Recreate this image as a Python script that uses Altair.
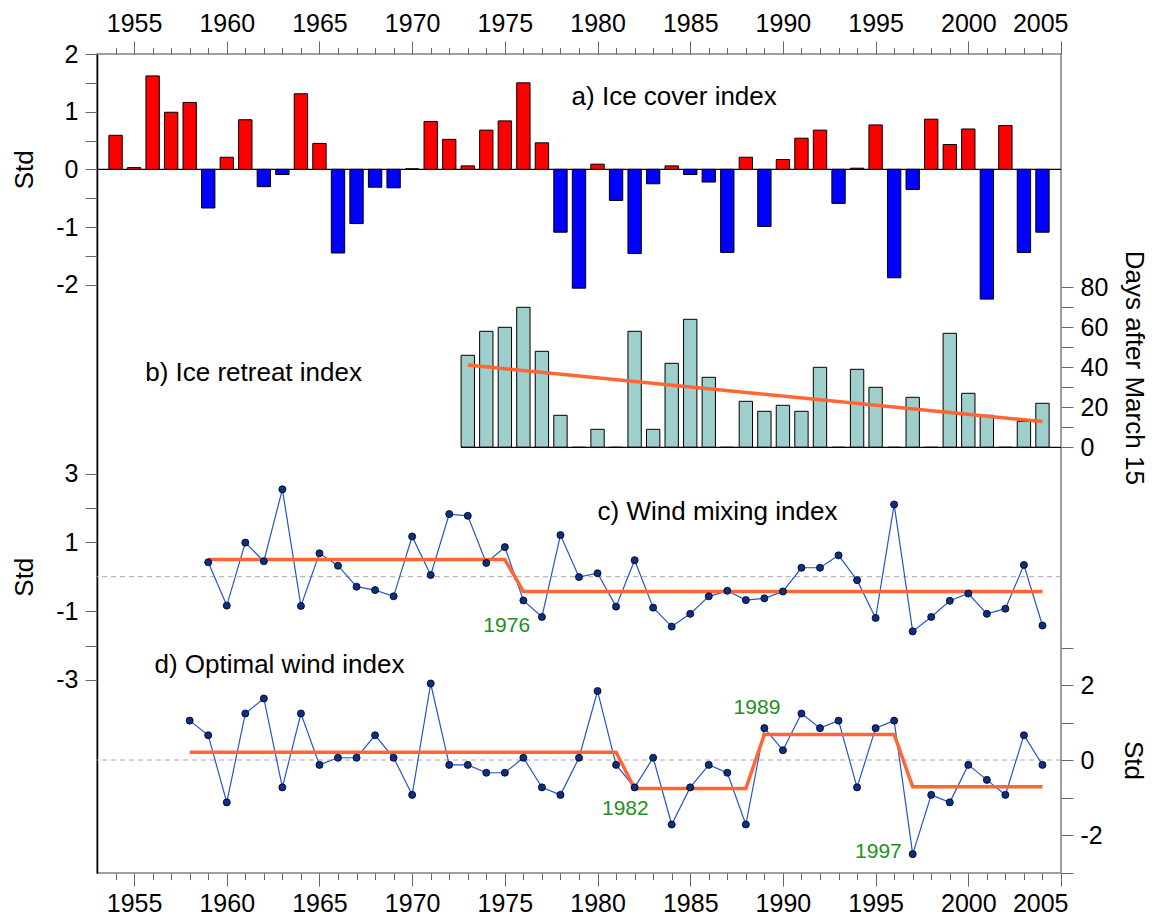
import altair as alt
import pandas as pd

# ---------------- data ----------------
years_a = list(range(1954, 2005))
ice_cover = [0.59, 0.03, 1.62, 0.99, 1.16, -0.67, 0.21, 0.86, -0.30, -0.09,
             1.31, 0.45, -1.45, -0.94, -0.31, -0.32, 0.01, 0.83, 0.52, 0.06,
             0.68, 0.84, 1.50, 0.46, -1.09, -2.06, 0.09, -0.54, -1.46, -0.25,
             0.06, -0.09, -0.22, -1.44, 0.21, -0.99, 0.17, 0.54, 0.68, -0.59,
             0.02, 0.77, -1.88, -0.35, 0.87, 0.43, 0.70, -2.25, 0.76, -1.44,
             -1.09]

years_b = list(range(1973, 2005))
ice_retreat = [46, 58, 60, 70, 48, 16, 0, 9, 0, 58,
               9, 42, 64, 35, 0, 23, 18, 21, 18, 40,
               0, 39, 30, 0, 25, 0, 57, 27, 16, 0,
               13, 22]

years_c = list(range(1959, 2005))
wind_mixing = [0.42, -0.84, 0.99, 0.45, 2.54, -0.85, 0.68, 0.32, -0.29, -0.39,
               -0.57, 1.17, 0.05, 1.82, 1.77, 0.40, 0.86, -0.69, -1.17, 1.21,
               -0.01, 0.10, -0.87, 0.48, -0.90, -1.45, -1.08, -0.57, -0.41, -0.68,
               -0.63, -0.43, 0.26, 0.26, 0.62, -0.10, -1.20, 2.10, -1.59, -1.17,
               -0.70, -0.49, -1.08, -0.93, 0.34, -1.42]

years_d = list(range(1958, 2005))
optimal_wind = [1.05, 0.66, -1.13, 1.24, 1.64, -0.73, 1.24, -0.13, 0.06, 0.06,
                0.66, 0.06, -0.93, 2.04, -0.13, -0.13, -0.34, -0.34, 0.06, -0.73,
                -0.93, 0.06, 1.84, -0.13, -0.73, 0.06, -1.72, -0.73, -0.13, -0.34,
                -1.72, 0.85, 0.26, 1.24, 0.85, 1.05, -0.73, 0.85, 1.05, -2.51,
                -0.93, -1.13, -0.13, -0.53, -0.93, 0.66, -0.13]

regime_c_years = [1959, 1975, 1976, 2004]
regime_c_values = [0.50, 0.50, -0.43, -0.43]
regime_d_years = [1958, 1981, 1982, 1988, 1989, 1996, 1997, 2004]
regime_d_values = [0.21, 0.21, -0.76, -0.76, 0.68, 0.68, -0.71, -0.71]

major_years = [1955, 1960, 1965, 1970, 1975, 1980, 1985, 1990, 1995, 2000, 2005]
minor_years = [y for y in range(1954, 2005) if y % 5 != 0]

ticks_a = [-2, -1.5, -1, -0.5, 0, 0.5, 1, 1.5, 2]
ticks_b = [0, 10, 20, 30, 40, 50, 60, 70, 80]
ticks_c = [-3, -2, -1, 1, 2, 3]
ticks_d = [-3, -2, -1, 0, 1, 2, 3]

label_a = ["a) Ice cover index"]; label_a_x = [1978.6]; label_a_y = [1.25]
label_b = ["b) Ice retreat index"]; label_b_x = [1955.6]; label_b_y = [37]
label_c = ["c) Wind mixing index"]; label_c_x = [1980.0]; label_c_y = [1.88]
label_d = ["d) Optimal wind index"]; label_d_x = [1956.1]; label_d_y = [2.53]

shift_c_text = ["1976"]; shift_c_x = [1975.1]; shift_c_y = [-1.43]
shift_d_text = ["1982", "1989", "1997"]
shift_d_x = [1981.5, 1988.6, 1995.15]
shift_d_y = [-1.31, 1.38, -2.45]

# ---------------- style ----------------
W, H = 964, 819
FONT = "Liberation Sans"
HALF = 0.36
ORANGE = "#ff6633"
GREEN = "#1f8f1f"
TICK = "#666666"


def xsc():
    return alt.Scale(domain=[1953, 2005], range=[0, W], nice=False, zero=False)


def sa():
    return alt.Scale(domain=[-2, 2], range=[230.7, 0], nice=False, zero=False)


def sb():
    return alt.Scale(domain=[0, 80], range=[393.3, 233.3], nice=False, zero=False)


def sc():
    return alt.Scale(domain=[-3, 3], range=[625.9, 419.5], nice=False, zero=False)


def sd():
    return alt.Scale(domain=[-3, 3], range=[818.5, 593.5], nice=False, zero=False)


def yaxis(orient, values, expr, title, tpad):
    return alt.Axis(orient=orient, values=values, labelExpr=expr, title=title,
                    titlePadding=tpad, tickSize=12, labelPadding=7, domain=False,
                    grid=False, labelOverlap=False, tickColor=TICK,
                    titleAngle=(-90 if orient == "left" else 90))


def text_layer(texts, xs, ys, yscale, size, color="black"):
    df = pd.DataFrame({"x": xs, "y": ys, "t": texts})
    return alt.Chart(df).mark_text(align="left" if size > 22 else "center",
                                   baseline="middle", fontSize=size, font=FONT,
                                   color=color).encode(
        x=alt.X("x:Q", scale=xsc(), axis=None),
        y=alt.Y("y:Q", scale=yscale, axis=None),
        text="t:N")


def zero_rule(yscale, color, dash=None, width=1.0):
    kw = {"color": color, "strokeWidth": width}
    if dash:
        kw["strokeDash"] = dash
    return alt.Chart(pd.DataFrame({"z": [0]})).mark_rule(**kw).encode(
        y=alt.Y("z:Q", scale=yscale, axis=None))


# ---------------- frame / x axes ----------------
tick_df = pd.DataFrame({"year": list(range(1953, 2006)), "one": [0.5] * 53})


def xaxis_layer(orient, values, size, labels):
    return alt.Chart(tick_df).mark_point(opacity=0).encode(
        x=alt.X("year:Q", scale=xsc(),
                axis=alt.Axis(orient=orient, values=values, tickSize=size,
                              labels=labels, format="d", labelPadding=5,
                              labelFlush=True, labelFlushOffset=7,
                              labelOverlap=False, domain=False, grid=False,
                              title=None, tickColor=TICK)))


left_line = alt.Chart(tick_df).mark_point(opacity=0).encode(
    y=alt.Y("one:Q", scale=alt.Scale(domain=[0, 1], range=[H, 0], nice=False, zero=False),
            axis=alt.Axis(orient="left", domain=True, domainColor="black",
                          domainWidth=1.5, ticks=False, labels=False, title=None,
                          grid=False)))

# ---------------- panel a ----------------
df_a = pd.DataFrame({"year": years_a, "v": ice_cover})
bars_a = alt.Chart(df_a).transform_calculate(
    x0=f"datum.year - {HALF}", x1=f"datum.year + {HALF}").mark_bar(
    stroke="black", strokeWidth=1).encode(
    x=alt.X("x0:Q", scale=xsc(), axis=None),
    x2="x1:Q",
    y=alt.Y("v:Q", scale=sa(),
            axis=yaxis("left", ticks_a, "datum.value % 1 == 0 ? '' + datum.value : ''", "Std", 18)),
    y2=alt.datum(0),
    color=alt.condition("datum.v >= 0", alt.value("#ff0000"), alt.value("#0000ff")))
layers_a = [zero_rule(sa(), "black", width=1.2), bars_a,
            text_layer(label_a, label_a_x, label_a_y, sa(), 26)]

# ---------------- panel b ----------------
df_b = pd.DataFrame({"year": years_b, "d": ice_retreat})
base_b = alt.Chart(df_b).transform_calculate(
    x0=f"datum.year - {HALF}", x1=f"datum.year + {HALF}", z="0")
baseline_b = base_b.mark_rule(color="black", strokeWidth=1.2).encode(
    x=alt.X("min(x0):Q", scale=xsc(), axis=None),
    x2=alt.value(W),
    y=alt.Y("min(z):Q", scale=sb(), axis=None))
bars_b = base_b.mark_bar(stroke="black", strokeWidth=1, color="#9ecfcc").encode(
    x=alt.X("x0:Q", scale=xsc(), axis=None),
    x2="x1:Q",
    y=alt.Y("d:Q", scale=sb(),
            axis=yaxis("right", ticks_b, "datum.value % 20 == 0 ? '' + datum.value : ''",
                       "Days after March 15", 13)),
    y2=alt.datum(0))
trend_b = alt.Chart(df_b).transform_regression("year", "d").mark_line(
    color=ORANGE, strokeWidth=3.5).encode(
    x=alt.X("year:Q", scale=xsc(), axis=None),
    y=alt.Y("d:Q", scale=sb(), axis=None))
layers_b = [bars_b, baseline_b, trend_b,
            text_layer(label_b, label_b_x, label_b_y, sb(), 26)]


# ---------------- panels c and d ----------------
def series_layers(years, values, ryears, rvalues, scale_fn, axis, label, lx, ly,
                  stext, sx, sy):
    df = pd.DataFrame({"year": years, "v": values})
    dfr = pd.DataFrame({"year": ryears, "v": rvalues})
    dash = zero_rule(scale_fn(), "#a8a8a8", dash=[5, 4], width=1)
    line = alt.Chart(df).mark_line(color="#2456c8", strokeWidth=1.2).encode(
        x=alt.X("year:Q", scale=xsc(), axis=None),
        y=alt.Y("v:Q", scale=scale_fn(), axis=axis))
    regime = alt.Chart(dfr).mark_line(color=ORANGE, strokeWidth=3.5).encode(
        x=alt.X("year:Q", scale=xsc(), axis=None),
        y=alt.Y("v:Q", scale=scale_fn(), axis=None))
    pts = alt.Chart(df).mark_circle(size=50, color="#0b2e86", stroke="black",
                                    strokeWidth=0.8, opacity=1).encode(
        x=alt.X("year:Q", scale=xsc(), axis=None),
        y=alt.Y("v:Q", scale=scale_fn(), axis=None))
    return [dash, line, regime, pts,
            text_layer(label, lx, ly, scale_fn(), 26),
            text_layer(stext, sx, sy, scale_fn(), 21, GREEN)]


layers_c = series_layers(years_c, wind_mixing, regime_c_years, regime_c_values, sc,
                         yaxis("left", ticks_c,
                               "abs(datum.value) % 2 == 1 ? '' + datum.value : ''", "Std", 18),
                         label_c, label_c_x, label_c_y, shift_c_text, shift_c_x, shift_c_y)
layers_d = series_layers(years_d, optimal_wind, regime_d_years, regime_d_values, sd,
                         yaxis("right", ticks_d,
                               "datum.value % 2 == 0 ? '' + datum.value : ''", "Std", 17),
                         label_d, label_d_x, label_d_y, shift_d_text, shift_d_x, shift_d_y)

chart = alt.layer(
    xaxis_layer("top", minor_years, 6.5, False),
    xaxis_layer("top", major_years, 13, True),
    xaxis_layer("bottom", minor_years, 6.5, False),
    xaxis_layer("bottom", major_years, 13, True),
    left_line,
    *layers_a, *layers_b, *layers_c, *layers_d,
).resolve_scale(x="independent", y="independent").properties(
    width=W, height=H,
    padding={"left": 89, "top": 46, "right": 89, "bottom": 47},
    autosize=alt.AutoSizeParams(type="none"),
).configure_view(
    stroke="#808080", strokeWidth=1.5
).configure_axis(
    labelFont=FONT, titleFont=FONT, labelFontSize=25, titleFontSize=26,
    titleFontWeight="normal", labelColor="black", titleColor="black"
).configure_text(font=FONT)

chart.save("out.html", embed_options={"renderer": "svg", "actions": False})
